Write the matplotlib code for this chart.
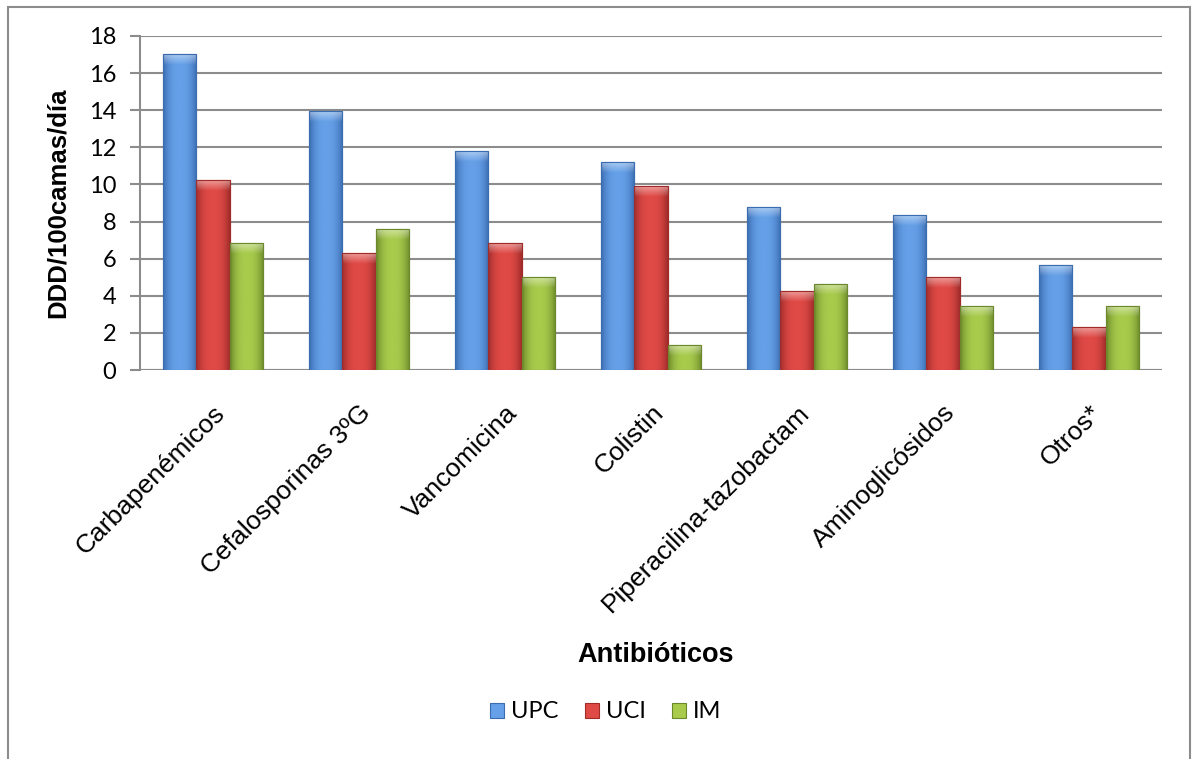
import matplotlib
matplotlib.use('Agg')
import matplotlib.pyplot as plt
import numpy as np
from matplotlib.colors import LinearSegmentedColormap
from matplotlib.patches import Rectangle

categories = ['Carbapenémicos', 'Cefalosporinas 3ºG', 'Vancomicina', 'Colistin',
              'Piperacilina-tazobactam', 'Aminoglicósidos', 'Otros*']
series_names = ['UPC', 'UCI', 'IM']
upc = [17.05, 13.95, 11.82, 11.21, 8.81, 8.38, 5.67]
uci = [10.22, 6.32, 6.86, 9.93, 4.26, 5.02, 2.33]
im = [6.86, 7.62, 5.02, 1.35, 4.64, 3.45, 3.45]
yticks = list(range(0, 19, 2))

# (dark edge, light centre) per series
cols = [('#3b6cb0', '#65a0e8'), ('#a02c2a', '#e04a46'), ('#6b892a', '#a8cb4c')]

fig = plt.figure(figsize=(11.92, 7.59), dpi=100)
ax = fig.add_axes([0.1174, 0.5125, 0.8574, 0.4401])

x = np.arange(len(categories))
width = 0.228
offs = [-width, 0, width]
grad = np.abs(np.linspace(-1, 1, 64))[None, :]

for k, vals in enumerate([upc, uci, im]):
    cmap = LinearSegmentedColormap.from_list('g%d' % k, [cols[k][1], cols[k][0]])
    bars = ax.bar(x + offs[k], vals, width, color=cols[k][1], edgecolor=cols[k][0],
                  linewidth=0.8, zorder=3, label=series_names[k])
    for b in bars:
        x0, w, h = b.get_x(), b.get_width(), b.get_height()
        img = ax.imshow(grad ** 2.5, cmap=cmap, extent=(x0, x0 + w, 0, h),
                        aspect='auto', zorder=3.5, vmin=0, vmax=1)
        img.set_clip_path(b)
        # lighter cap at the top of each bar
        cap = ax.imshow(np.linspace(1, 0, 32)[:, None], cmap=LinearSegmentedColormap.from_list(
                        'c', [(1, 1, 1, 0), (1, 1, 1, 0.5)]),
                        extent=(x0, x0 + w, h - 0.6, h), aspect='auto', zorder=3.6)
        cap.set_clip_path(b)
        ax.add_patch(Rectangle((x0, 0), w, h, fill=False, edgecolor=cols[k][0],
                               linewidth=0.8, zorder=3.7))

ax.set_xlim(-0.5, len(categories) - 0.5)
ax.set_ylim(0, 18)
ax.set_yticks(yticks)
ax.yaxis.grid(True, color='#8c8c8c', linewidth=1.5, zorder=0)
ax.set_axisbelow(True)
for s in ['top', 'right', 'bottom']:
    ax.spines[s].set_visible(False)
ax.spines['left'].set_color('#8c8c8c')
ax.spines['left'].set_linewidth(1.5)
ax.axhline(0, color='#8c8c8c', linewidth=1.5, zorder=2)
ax.tick_params(axis='y', direction='out', length=7, width=1.5, color='#8c8c8c',
               labelsize=17, pad=10)
for t in ax.get_yticklabels():
    t.set_family('Lato')
ax.tick_params(axis='x', length=0, pad=22)
ax.set_xticks(x)
ax.set_xticklabels(categories, rotation=45, ha='right', rotation_mode='anchor',
                   fontsize=19, family='Liberation Sans')

ax.set_ylabel('DDD/100camas/día', fontsize=18.5, fontweight='bold',
              family='Liberation Sans', labelpad=14)
fig.text(0.55, 1 - 655 / 759, 'Antibióticos', fontsize=19.5, fontweight='bold',
         family='Liberation Sans', ha='center', va='center')

h, l = ax.get_legend_handles_labels()
fig.legend(h, l, loc='center', bbox_to_anchor=(0.508, 1 - 712 / 759), ncol=3,
           frameon=False, prop={'family': 'Lato', 'size': 17}, handlelength=0.6,
           handleheight=0.6, handletextpad=0.3, columnspacing=1.1)

fig.patches.append(Rectangle((8 / 1192, -0.02), 1182 / 1192, 1.02 - 7 / 759,
                             transform=fig.transFigure, fill=False,
                             edgecolor='#8c8c8c', linewidth=1.5))

fig.savefig('out.png', dpi=100)
